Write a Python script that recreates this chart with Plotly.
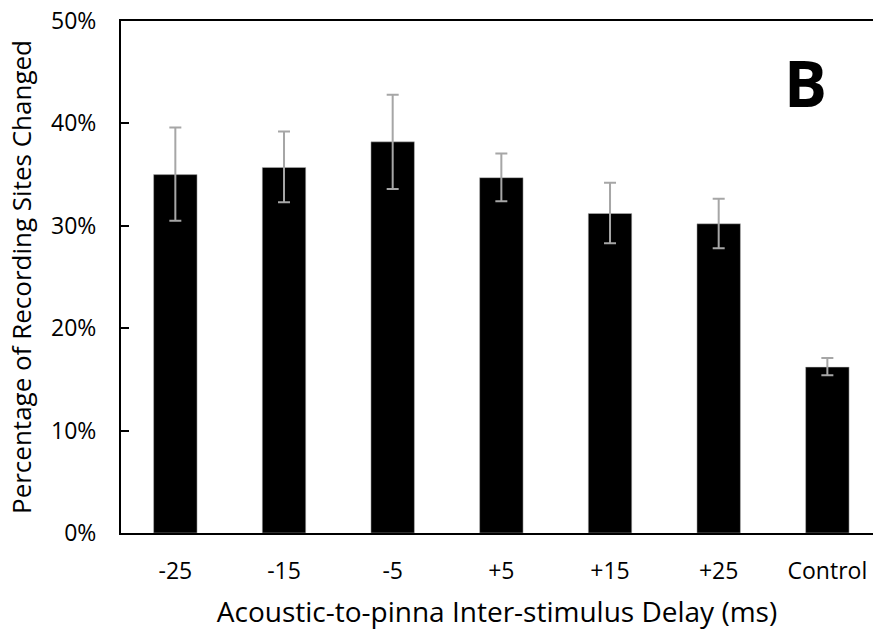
import plotly.graph_objects as go

categories = ["-25", "-15", "-5", "+5", "+15", "+25", "Control"]
percent_changed = [35.0, 35.7, 38.2, 34.7, 31.2, 30.2, 16.2]
error_plus = [4.6, 3.5, 4.6, 2.35, 3.0, 2.45, 0.9]
error_minus = [4.5, 3.4, 4.6, 2.3, 2.9, 2.4, 0.8]

y_ticks = [0, 10, 20, 30, 40, 50]

FONT = "Open Sans"

fig = go.Figure()
fig.add_trace(go.Bar(
    x=categories,
    y=percent_changed,
    width=0.4,
    marker=dict(color="black", line=dict(color="#bfbfbf", width=0.5)),
    error_y=dict(
        type="data",
        symmetric=False,
        array=error_plus,
        arrayminus=error_minus,
        color="#a6a6a6",
        thickness=2,
        width=6,
    ),
    showlegend=False,
))

fig.update_layout(
    width=873,
    height=633,
    margin=dict(l=121, r=0, t=21, b=100),
    paper_bgcolor="white",
    plot_bgcolor="white",
    font=dict(family=FONT, color="black"),
    bargap=0.6,
    xaxis=dict(
        type="category",
        range=[-0.5, 6.42],
        showline=True,
        linecolor="black",
        linewidth=2,
        mirror=True,
        ticks="",
        showgrid=False,
        tickfont=dict(size=23, family=FONT, color="black"),
        ticklabelstandoff=16,
        title=dict(text="Acoustic-to-pinna Inter-stimulus Delay (ms)",
                   font=dict(size=28, family=FONT, color="black"),
                   standoff=18),
    ),
    yaxis=dict(
        range=[0, 50],
        tickvals=y_ticks,
        ticktext=[f"{v}%" for v in y_ticks],
        showline=True,
        linecolor="black",
        linewidth=2,
        ticks="inside",
        ticklen=8,
        tickwidth=2,
        tickcolor="black",
        showgrid=False,
        zeroline=False,
        tickfont=dict(size=23, family=FONT, color="black"),
        ticklabelstandoff=18,
        title=dict(text="Percentage of Recording Sites Changed",
                   font=dict(size=26, family=FONT, color="black"),
                   standoff=12),
    ),
    annotations=[dict(
        text="<b>B</b>",
        xref="paper", yref="paper",
        x=0.9096, y=0.879,
        xanchor="center", yanchor="middle",
        showarrow=False,
        font=dict(size=64, family=FONT, color="black"),
    )],
)

fig.write_html("out.html")
